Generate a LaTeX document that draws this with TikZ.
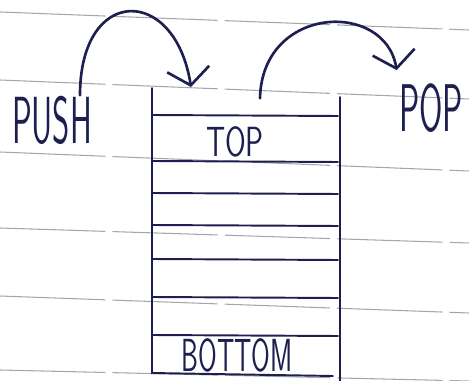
\documentclass[tikz,border=0pt]{standalone}
\usepackage{fontspec}
\usepackage{tikz}
\usetikzlibrary{positioning, arrows.meta, calc}
\definecolor{penInk}{HTML}{1C1F4F}
\definecolor{paperRule}{HTML}{A4A6AC}
\tikzset{
  hand/.style={font=\sffamily\fontsize{24}{24}\selectfont, text=penInk,
    inner sep=0pt},
  stackline/.style={line width=1.1pt, penInk, line cap=round},
  swing/.style={line width=1.5pt, penInk, line cap=round,
    -{Straight Barb[length=3.3mm, width=8.5mm]}},
  ruled/.style={paperRule, line width=0.6pt, dash pattern=on 60pt off 4pt},
}
\begin{document}
\begin{tikzpicture}[x=0.02cm, y=-0.02cm]
  \useasboundingbox (0,0) rectangle (469,381);
  % notebook rules
  \foreach \l/\r in {12/30, 80/99, 152/171, 228/243, 296/313, 370/381}
    \draw[ruled] (0,\l) -- (469,\r);
  % stack walls
  \draw[stackline] (152,88) -- (152,373) -- (333,376);
  \draw[stackline] (340,97) -- (340,381);
  % cell dividers
  \foreach \y in {115,161,193,225,259,297,335}
    \draw[stackline] (152,\y) -- (338,\y+1);
  % labels
  \node[hand, xscale=0.78, yscale=1.58] (push) at (52,120) {PUSH};
  \node[hand, xscale=0.8, yscale=1.6] (pop) at (431,108) {POP};
  \node[hand, xscale=0.71] (top) at (235,142) {TOP};
  \node[hand, xscale=0.64, yscale=1.1] (bottom) at (237,355) {BOTTOM};
  % push / pop arcs
  \coordinate (pushin) at (191,87);
  \coordinate (popout) at ($(top.north)+(25,-28)$);
  \draw[swing] ($(push.north)+(28,0)$) .. controls (80,-15) and (175,-15) .. (pushin);
  \draw[swing, shorten >=0.26cm] (popout) .. controls (262,5) and (385,0) .. (pop.north west);
\end{tikzpicture}
\end{document}
